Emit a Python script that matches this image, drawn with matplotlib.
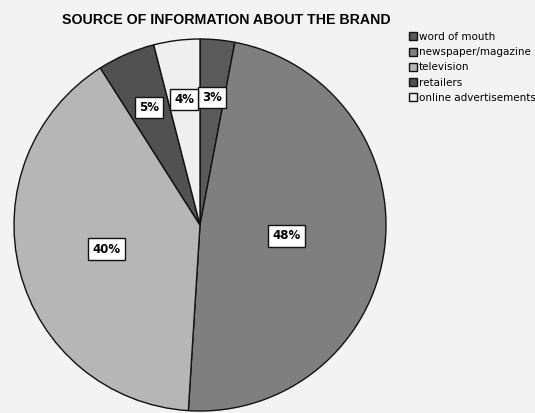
import matplotlib
matplotlib.use("Agg")
import matplotlib.pyplot as plt
import numpy as np

categories = ["word of mouth", "newspaper/magazine", "television", "retailers", "online advertisements"]
values = [3, 48, 40, 5, 4]
colors = ["#5a5a5a", "#7f7f7f", "#b6b6b6", "#515151", "#efefef"]
label_dist = [0.69, 0.47, 0.52, 0.69, 0.68]

W, H = 535, 413
fig = plt.figure(figsize=(W / 100, H / 100), dpi=100)
fig.patch.set_facecolor("#f3f3f3")

cx, cy, r = 200, 225, 186
ax = fig.add_axes([(cx - r) / W, (H - cy - r) / H, 2 * r / W, 2 * r / H])
ax.set_facecolor("none")

wedges, _ = ax.pie(values, colors=colors, startangle=90, counterclock=False,
                   wedgeprops=dict(edgecolor="#111111", linewidth=1.0))
ax.set_xlim(-1, 1)
ax.set_ylim(-1, 1)
ax.set_aspect("equal")
ax.axis("off")

for w, v, d in zip(wedges, values, label_dist):
    ang = np.deg2rad((w.theta1 + w.theta2) / 2)
    ax.text(d * np.cos(ang), d * np.sin(ang), f"{v}%", ha="center", va="center",
            fontsize=8.5, fontweight="bold", family="DejaVu Sans",
            bbox=dict(boxstyle="square,pad=0.35", facecolor="white", edgecolor="#111111", linewidth=1.0))

fig.text(226 / W, 1 - 20 / H, "SOURCE OF INFORMATION ABOUT THE BRAND", ha="center", va="center",
         fontsize=10.2, fontweight="bold", family="Liberation Sans")

leg = fig.legend(wedges, categories, loc="upper left", bbox_to_anchor=(409 / W, 1 - 32 / H),
                 frameon=False, fontsize=7.5, handlelength=0.75, handleheight=0.8,
                 handletextpad=0.2, labelspacing=0.5, borderaxespad=0, borderpad=0)

fig.savefig("out.png", dpi=100, facecolor=fig.get_facecolor())
